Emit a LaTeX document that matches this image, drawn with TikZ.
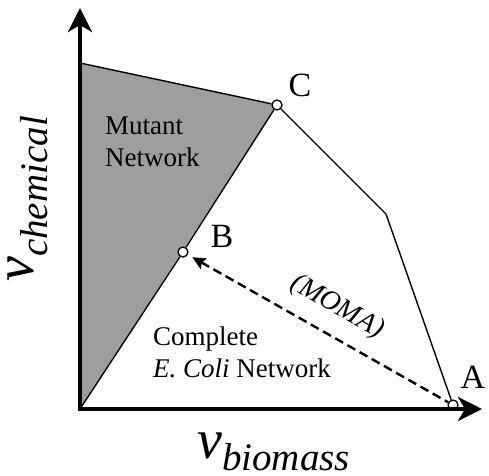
\documentclass[tikz,border=0pt]{standalone}
\usepackage{fontspec}
\setmainfont{Liberation Serif}
\usetikzlibrary{arrows.meta,backgrounds}
\definecolor{mutantgray}{RGB}{158,158,158}
\tikzset{
  axis/.style={line width=4.5pt, -{Stealth[length=24pt,width=24pt,inset=7pt]}},
  edge/.style={line width=1.4pt},
  momaline/.style={line width=2.4pt, dash pattern=on 9pt off 5pt,
    {Stealth[length=13pt,width=12pt,inset=2pt]}-, shorten <=5pt},
  vertex/.style={circle, draw, fill=white, line width=1.3pt, inner sep=0pt, minimum size=10pt},
  ptname/.style={font=\fontsize{34}{34}\selectfont, inner sep=0pt},
  region/.style={font=\fontsize{27}{32}\selectfont, align=left, inner sep=0pt, anchor=north west},
}
\begin{document}
\begin{tikzpicture}[x=1pt, y=1pt]
  \useasboundingbox (0,0) rectangle (489,475);
  % corners of the flux cone
  \coordinate (O) at (80,66);
  \coordinate (M) at (80,412);
  \coordinate (K) at (386,261);
  \coordinate (ytip) at (80,467);
  \coordinate (xtip) at (482,66);
  \node[vertex] (A) at (453,70) {};
  \node[vertex] (B) at (183,223) {};
  \node[vertex] (C) at (277,370) {};
  % mutant part
  \begin{scope}[on background layer]
    \fill[mutantgray] (M) -- (C.center) -- (O) -- cycle;
  \end{scope}
  \draw[edge] (M) -- (C);
  \draw[edge] (C) -- (B);
  \draw[edge] (B) -- (O);
  \draw[edge] (C) -- (K) -- (A);
  % axes
  \draw[axis] (O) -- (ytip);
  \draw[axis] (O) -- (xtip);
  \draw[line width=4.5pt] (80,63.75) -- (O);
  % optimum of the mutant
  \draw[momaline] (B) -- (A)
    node[pos=0.52, sloped, above=14pt, font=\fontsize{28}{28}\selectfont\itshape, inner sep=0pt] {(MOMA)};
  \node[ptname] (labA) at (473,98) {A};
  \node[ptname] (labB) at (222,239) {B};
  \node[ptname] (labC) at (300,390) {C};
  \node[region] (mutant) at (105,358) {Mutant\\Network};
  \node[region] (complete) at (153,148) {Complete\\\textit{E. Coli} Network};
  \node[anchor=base west, inner sep=0pt] (xlab) at (197,17)
    {\fontsize{56}{56}\selectfont\itshape v\raisebox{-12pt}{\fontsize{39}{39}\selectfont biomass}};
  \node[anchor=base west, inner sep=0pt, rotate=90] (ylab) at (33,193)
    {\fontsize{56}{56}\selectfont\itshape v\raisebox{-14pt}{\fontsize{39}{39}\selectfont chemical}};
\end{tikzpicture}
\end{document}
